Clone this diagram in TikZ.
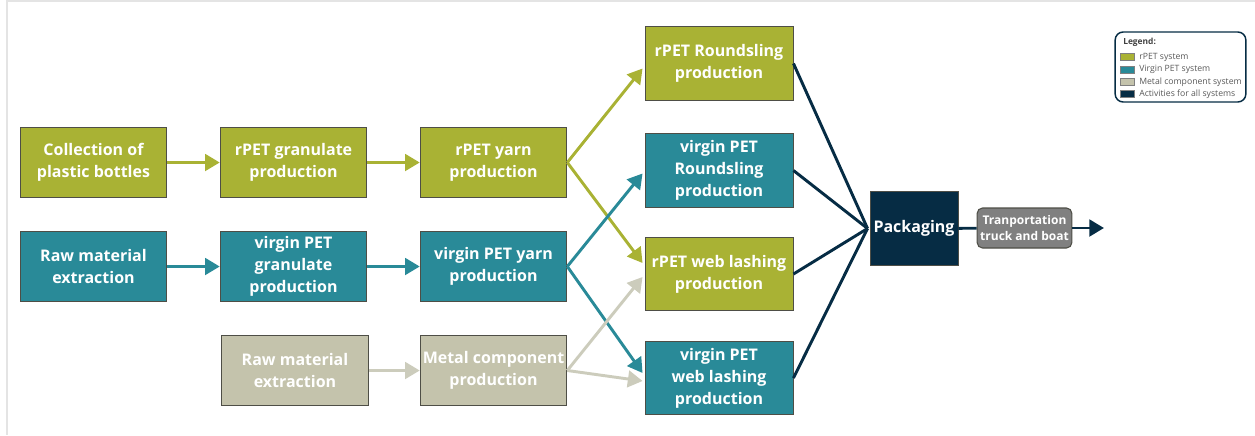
\documentclass[tikz,border=0pt]{standalone}
\usepackage{fontspec}
\setmainfont{Open Sans}
\usetikzlibrary{arrows.meta,positioning,calc}

\definecolor{rpetgreen}{RGB}{169,178,52}
\definecolor{virginteal}{RGB}{41,138,152}
\definecolor{metalgray}{RGB}{196,195,172}
\definecolor{metalline}{RGB}{204,204,188}
\definecolor{allnavy}{RGB}{6,44,68}
\definecolor{transgray}{RGB}{128,128,128}
\definecolor{boxline}{RGB}{78,78,70}
\definecolor{framegray}{RGB}{228,228,228}

\begin{document}
\begin{tikzpicture}[x=0.75pt, y=-0.75pt,
        box/.style={draw=boxline, line width=0.7pt, text=white, align=center, inner sep=1pt,
            minimum width=110pt, minimum height=53pt, font=\bfseries\fontsize{12}{16.5}\selectfont},
        endbox/.style={box, minimum width=111pt, minimum height=55pt},
        rpet/.style={box, fill=rpetgreen},
        virgin/.style={box, fill=virginteal},
        metal/.style={box, fill=metalgray},
        flow/.style={line width=2.2pt, -{Triangle[length=11pt, width=12.5pt]}},
        swatch/.style={draw=gray, line width=0.3pt, minimum width=10.5pt, minimum height=5pt, inner sep=0pt},
        legtext/.style={anchor=west, inner sep=0pt, text=black!65, font=\fontsize{6.5}{8}\selectfont}
    ]
        \useasboundingbox (0,0) rectangle (1255,435);
        \draw[framegray, line width=1.5pt] (6.5,435) -- (6.5,1.5) -- (1255,1.5);

        % first columns
        \node[rpet] (bottles) at (93.5,162.5) {Collection of\\plastic bottles};
        \node[rpet] (rgran) at (293.5,162.5) {rPET granulate\\production};
        \node[rpet] (ryarn) at (493.5,162.5) {rPET yarn\\production};
        \node[virgin] (vraw) at (93.5,266.5) {Raw material\\extraction};
        \node[virgin] (vgran) at (293.5,266.5) {virgin PET\\granulate\\production};
        \node[virgin] (vyarn) at (493.5,266.5) {virgin PET yarn\\production};
        \node[metal] (mraw) at (295,370.5) {Raw material\\extraction};
        \node[metal] (mcomp) at (493.5,370.5) {Metal component\\production};

        % products
        \node[rpet, endbox] (rsling) at (719,63.5) {rPET Roundsling\\production};
        \node[virgin, endbox] (vsling) at (719,170.5) {virgin PET\\Roundsling\\production};
        \node[rpet, endbox] (rlash) at (719,274) {rPET web lashing\\production};
        \node[virgin, endbox] (vlash) at (719,378) {virgin PET\\web lashing\\production};

        % shared activities
        \node[box, fill=allnavy, minimum width=66pt, minimum height=55pt] (pack) at (914,228.5) {Packaging};
        \node[draw=boxline, fill=transgray, text=white, rounded corners=4pt, line width=0.8pt,
            minimum width=71pt, minimum height=30pt, inner sep=1pt, align=center,
            font=\bfseries\fontsize{9}{12.5}\selectfont] (trans) at (1024.5,228) {Tranportation\\truck and boat};
        \coordinate (out) at (1104,228);

        % arrows
        \draw[flow, rpetgreen] (bottles) -- (rgran);
        \draw[flow, rpetgreen] (rgran) -- (ryarn);
        \draw[flow, virginteal] (vraw) -- (vgran);
        \draw[flow, virginteal] (vgran) -- (vyarn);
        \draw[flow, metalline] (mraw) -- (mcomp);

        \draw[flow, rpetgreen] (ryarn.east) -- ($(rsling.west)+(-2,5)$);
        \draw[flow, rpetgreen] (ryarn.east) -- ($(rlash.west)+(-2,-11)$);
        \draw[flow, virginteal] (vyarn.east) -- ($(vsling.west)+(-2,3)$);
        \draw[flow, virginteal] (vyarn.east) -- ($(vlash.west)+(-2,-5)$);
        \draw[flow, metalline] (mcomp.east) -- ($(rlash.west)+(-2,3)$);
        \draw[flow, metalline] (mcomp.east) -- ($(vlash.west)+(-2,3)$);

        \foreach \n in {rsling,vsling,rlash,vlash}
            \draw[allnavy, line width=2.2pt] (\n.east) -- ($(pack.west)+(-2,0)$);
        \draw[allnavy, line width=2.2pt] (pack) -- (trans);
        \draw[flow, allnavy] (trans) -- (out);

        % legend
        \node[draw=allnavy, line width=1.1pt, rounded corners=6pt, minimum width=98pt, minimum height=52.5pt] (legend) at (1180.5,67) {};
        \node[anchor=west, inner sep=0pt, text=black!75, font=\bfseries\fontsize{6.3}{8}\selectfont] (legtitle) at (1123,42) {Legend:};
        \node[swatch, fill=rpetgreen] (sw1) at (1127,57) {};
        \node[swatch, fill=virginteal] (sw2) at (1127,69.5) {};
        \node[swatch, fill=metalgray] (sw3) at (1127,82) {};
        \node[swatch, fill=allnavy] (sw4) at (1127,94) {};
        \node[legtext] (lt1) at (1139,57) {rPET system};
        \node[legtext] (lt2) at (1139,69.5) {Virgin PET system};
        \node[legtext] (lt3) at (1139,82) {Metal component system};
        \node[legtext] (lt4) at (1139,94) {Activities for all systems};
    \end{tikzpicture}
\end{document}
